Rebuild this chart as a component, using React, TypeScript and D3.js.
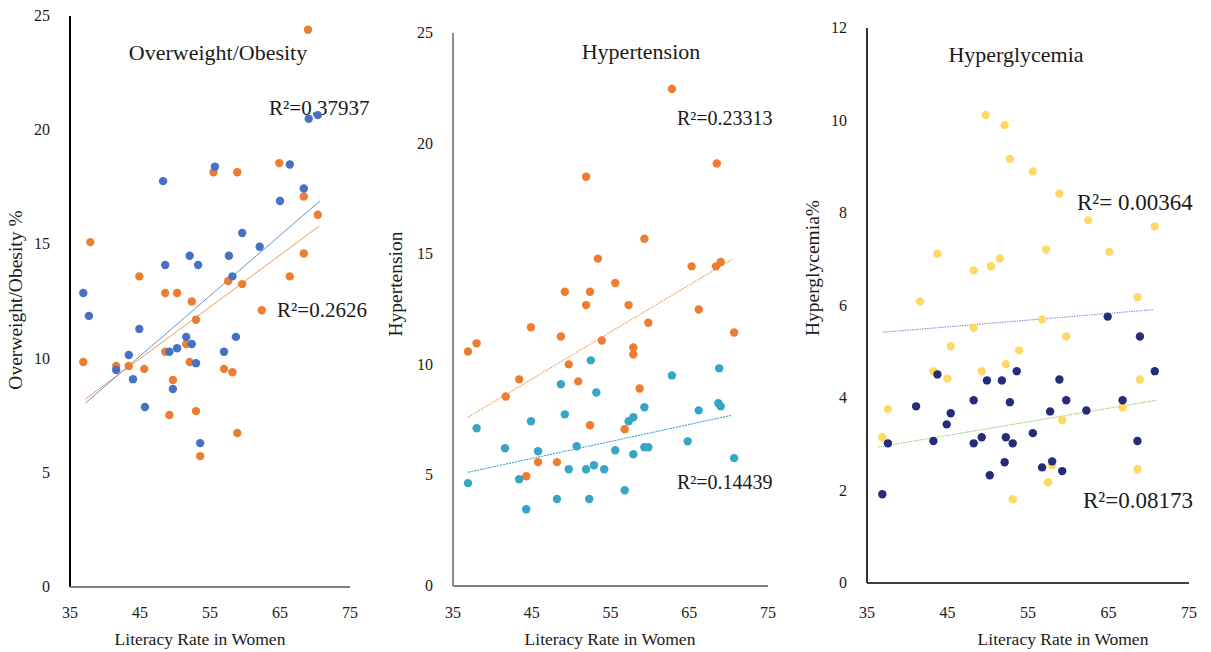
import React from "react";
import * as d3 from "d3";

// literacy rate (x) vs prevalence (y)
const obesityOrange: [number, number][] = [
  [36.9, 9.85], [37.9, 15.1], [41.6, 9.68], [43.4, 9.68], [44.9, 13.6], [45.6, 9.55],
  [48.6, 12.87], [48.6, 10.3], [49.2, 7.53], [49.7, 9.06], [50.3, 12.87], [51.6, 10.64],
  [52.1, 9.85], [52.4, 12.5], [53.0, 11.7], [53.0, 7.7], [53.6, 5.73], [55.5, 18.16],
  [57.6, 13.4], [57.0, 9.55], [58.2, 9.4], [58.9, 18.16], [59.6, 13.26], [58.9, 6.74],
  [62.4, 12.12], [64.9, 18.56], [66.4, 13.6], [68.4, 17.1], [68.4, 14.6], [69.0, 24.4],
  [70.4, 16.3],
];
const obesityBlue: [number, number][] = [
  [36.9, 12.87], [37.7, 11.87], [41.6, 9.5], [43.4, 10.16], [44.0, 9.1], [44.9, 11.3],
  [45.7, 7.88], [48.3, 17.77], [48.6, 14.1], [49.2, 10.3], [49.7, 8.67], [50.3, 10.45],
  [51.6, 10.95], [52.1, 14.5], [52.4, 10.64], [53.0, 9.8], [53.3, 14.1], [53.6, 6.3],
  [55.7, 18.4], [57.7, 14.5], [57.0, 10.3], [58.2, 13.6], [58.7, 10.95], [59.6, 15.5],
  [62.1, 14.9], [65.0, 16.9], [66.4, 18.5], [68.4, 17.45], [69.1, 20.5], [70.4, 20.66],
];
const obesityTrendBlue: [number, number][] = [[37.2, 8.05], [70.7, 16.9]];
const obesityTrendOrange: [number, number][] = [[37.2, 8.23], [70.6, 15.8]];

const hyperOrange: [number, number][] = [
  [62.8, 22.47], [68.5, 19.1], [51.9, 18.5], [59.3, 15.7], [53.4, 14.8], [65.3, 14.45],
  [68.4, 14.45], [69.0, 14.65], [55.6, 13.7], [49.2, 13.3], [52.4, 13.3], [51.9, 12.7],
  [57.3, 12.7], [66.2, 12.5], [59.8, 11.9], [44.9, 11.7], [48.7, 11.28], [53.9, 11.1],
  [70.7, 11.46], [36.9, 10.6], [38.0, 10.97], [57.9, 10.78], [57.9, 10.47], [49.7, 10.02],
  [43.4, 9.34], [50.9, 9.25], [41.7, 8.57], [58.7, 8.93], [52.4, 7.27], [56.8, 7.09],
  [45.8, 5.6], [48.2, 5.6], [44.3, 4.96],
];
const hyperTeal: [number, number][] = [
  [52.5, 10.2], [68.8, 9.84], [62.8, 9.52], [48.7, 9.12], [53.2, 8.75], [68.7, 8.26],
  [69.0, 8.12], [59.3, 8.08], [66.2, 7.94], [49.2, 7.76], [57.9, 7.63], [57.3, 7.45],
  [44.9, 7.45], [38.0, 7.13], [64.8, 6.54], [41.6, 6.23], [50.7, 6.32], [59.3, 6.27],
  [59.8, 6.27], [55.6, 6.14], [45.8, 6.09], [57.9, 5.96], [70.7, 5.78], [52.9, 5.46],
  [49.7, 5.28], [51.9, 5.28], [54.2, 5.28], [36.9, 4.65], [43.4, 4.83], [56.8, 4.33],
  [48.2, 3.93], [52.3, 3.93], [44.3, 3.47],
];
const hyperTrendOrange: [number, number][] = [[36.9, 7.63], [70.6, 14.8]];
const hyperTrendTeal: [number, number][] = [[36.9, 5.14], [70.4, 7.72]];

const glyYellow: [number, number][] = [
  [49.75, 10.12], [52.1, 9.9], [52.75, 9.17], [55.6, 8.9], [58.9, 8.42], [62.5, 7.84],
  [70.75, 7.71], [43.75, 7.12], [57.25, 7.21], [65.1, 7.16], [51.5, 7.02], [50.4, 6.85],
  [48.25, 6.76], [41.6, 6.09], [68.6, 6.18], [56.75, 5.7], [48.25, 5.52], [59.75, 5.33],
  [45.4, 5.12], [53.9, 5.03], [52.25, 4.73], [43.25, 4.58], [49.25, 4.58], [45.0, 4.42],
  [68.9, 4.4], [37.6, 3.76], [66.75, 3.8], [59.25, 3.52], [36.9, 3.15], [58.0, 2.55],
  [68.6, 2.46], [57.5, 2.18], [53.1, 1.81],
];
const glyNavy: [number, number][] = [
  [64.9, 5.76], [68.9, 5.33], [53.6, 4.58], [43.75, 4.51], [70.75, 4.58], [49.9, 4.38],
  [51.75, 4.38], [58.9, 4.4], [48.25, 3.95], [59.75, 3.95], [66.75, 3.95], [52.75, 3.91],
  [41.1, 3.82], [57.75, 3.71], [62.25, 3.73], [45.4, 3.67], [44.9, 3.43], [55.6, 3.24],
  [49.25, 3.15], [52.25, 3.15], [43.25, 3.07], [37.6, 3.02], [48.25, 3.02], [53.1, 3.02],
  [68.6, 3.07], [58.0, 2.63], [52.1, 2.61], [56.75, 2.5], [59.25, 2.42], [50.25, 2.33],
  [36.9, 1.92],
];
const glyTrendPurple: [number, number][] = [[36.9, 5.42], [70.6, 5.91]];
const glyTrendGreen: [number, number][] = [[36.4, 2.94], [70.9, 3.95]];

const xTicks = [35, 45, 55, 65, 75];
const yTicks25 = [0, 5, 10, 15, 20, 25];
const yTicks12 = [0, 2, 4, 6, 8, 10, 12];

const FONT = "'Liberation Serif', 'Times New Roman', serif";

type Series = { data: [number, number][]; color: string };
type Trend = { data: [number, number][]; color: string; dash?: string; width?: number };
type Note = { text: string; x: number; y: number; size: number };

type PanelProps = {
  x0: number; x1: number; y0: number; y1: number; yMax: number; yTicks: number[];
  xAxisColor: string; yAxisColor: string; axisWidth: number;
  title: string; titleX: number; titleY: number;
  yLabel: string; yLabelX: number; yLabelY: number;
  xLabelX: number;
  series: Series[]; trends: Trend[]; notes: Note[];
};

function Panel(p: PanelProps) {
  const x = d3.scaleLinear().domain([35, 75]).range([p.x0, p.x1]);
  const y = d3.scaleLinear().domain([0, p.yMax]).range([p.y0, p.y1]);
  const line = d3.line<[number, number]>().x(d => x(d[0])).y(d => y(d[1]));
  return (
    <g fontFamily={FONT} fill="#1a1a1a">
      <text x={p.titleX} y={p.titleY} textAnchor="middle" fontSize={22}>{p.title}</text>
      {p.yTicks.map(t => (
        <text key={t} x={p.x0 - 20} y={y(t) + 5} textAnchor="end" fontSize={16}>{t}</text>
      ))}
      {xTicks.map(t => (
        <text key={t} x={x(t)} y={618} textAnchor="middle" fontSize={16}>{t}</text>
      ))}
      <text x={p.xLabelX} y={645} textAnchor="middle" fontSize={17.5}>Literacy Rate in Women</text>
      <text transform={`translate(${p.yLabelX},${p.yLabelY}) rotate(-90)`} textAnchor="middle"
        dominantBaseline="middle" fontSize={19.5}>{p.yLabel}</text>
      {p.notes.map(n => (
        <text key={n.text} x={n.x} y={n.y} fontSize={n.size}>{n.text}</text>
      ))}
      <line x1={p.x0} x2={p.x0} y1={y(p.yMax)} y2={p.y0} stroke={p.yAxisColor} strokeWidth={p.axisWidth} />
      <line x1={p.x0} x2={p.x1} y1={p.y0} y2={p.y0} stroke={p.xAxisColor} strokeWidth={p.axisWidth} />
      {p.trends.map((t, i) => (
        <path key={i} d={line(t.data) || ""} fill="none" stroke={t.color} strokeWidth={t.width ?? 1.1}
          strokeDasharray={t.dash} />
      ))}
      {p.series.map((s, i) => (
        <g key={i} fill={s.color}>
          {s.data.map((d, j) => <circle key={j} cx={x(d[0])} cy={y(d[1])} r={4.2} />)}
        </g>
      ))}
    </g>
  );
}

export default function App() {
  return (
    <svg width={1211} height={652} style={{ position: "absolute", left: 0, top: 0, background: "#fff" }}>
      <Panel x0={70} x1={350} y0={587} y1={16} yMax={25} yTicks={yTicks25}
        xAxisColor="#7f7f7f" yAxisColor="#000" axisWidth={2}
        title="Overweight/Obesity" titleX={218} titleY={60}
        yLabel="Overweight/Obesity %" yLabelX={18} yLabelY={300} xLabelX={200}
        series={[{ data: obesityOrange, color: "#ED7D31" }, { data: obesityBlue, color: "#4472C4" }]}
        trends={[{ data: obesityTrendBlue, color: "#4472C4", width: 0.8 }, { data: obesityTrendOrange, color: "#ED7D31", width: 0.8 }]}
        notes={[{ text: "R²=0.37937", x: 269, y: 115, size: 21 }, { text: "R²=0.2626", x: 277, y: 317, size: 21 }]} />
      <Panel x0={453} x1={768} y0={586} y1={33} yMax={25} yTicks={yTicks25}
        xAxisColor="#7f7f7f" yAxisColor="#7f7f7f" axisWidth={1.8}
        title="Hypertension" titleX={641} titleY={59}
        yLabel="Hypertension" yLabelX={398} yLabelY={284} xLabelX={610}
        series={[{ data: hyperOrange, color: "#ED7D31" }, { data: hyperTeal, color: "#35A6C4" }]}
        trends={[{ data: hyperTrendOrange, color: "#F4A460", dash: "2,1" }, { data: hyperTrendTeal, color: "#35A6C4", dash: "2,1" }]}
        notes={[{ text: "R²=0.23313", x: 677, y: 125, size: 20 }, { text: "R²=0.14439", x: 677, y: 489, size: 20 }]} />
      <Panel x0={867} x1={1189} y0={583} y1={28} yMax={12} yTicks={yTicks12}
        xAxisColor="#000" yAxisColor="#000" axisWidth={1.6}
        title="Hyperglycemia" titleX={1016} titleY={62}
        yLabel="Hyperglycemia%" yLabelX={815} yLabelY={268} xLabelX={1063}
        series={[{ data: glyYellow, color: "#FFD966" }, { data: glyNavy, color: "#262B7A" }]}
        trends={[{ data: glyTrendPurple, color: "#9F86D4", dash: "1.5,1" }, { data: glyTrendGreen, color: "#9CCB74", dash: "1.5,1" }]}
        notes={[{ text: "R²= 0.00364", x: 1077, y: 210, size: 23 }, { text: "R²=0.08173", x: 1083, y: 508, size: 23 }]} />
    </svg>
  );
}
